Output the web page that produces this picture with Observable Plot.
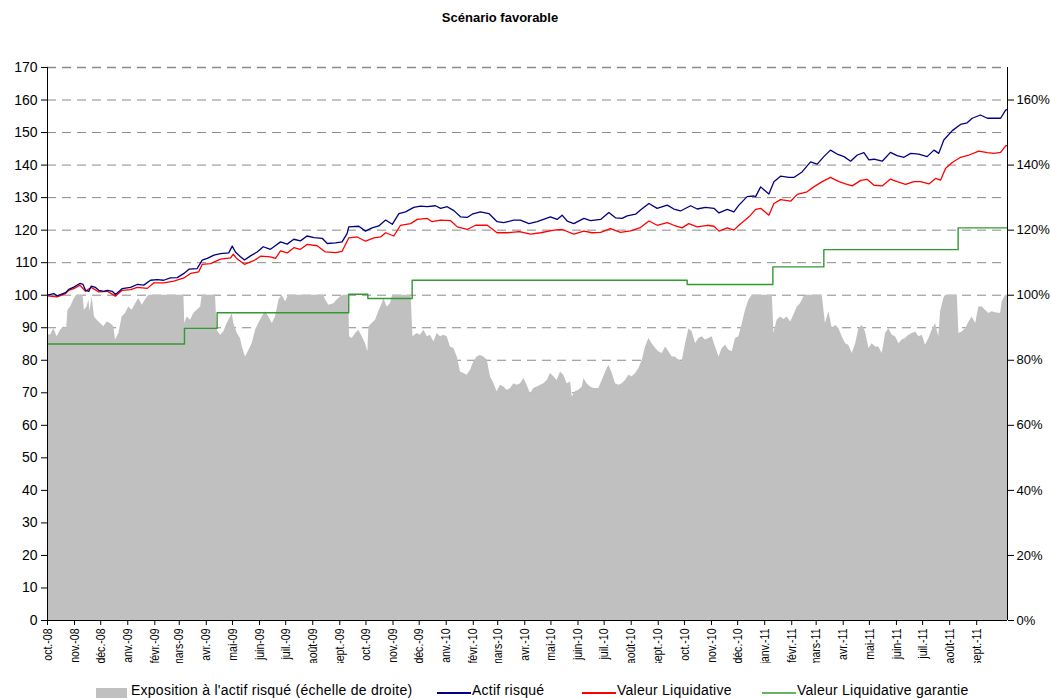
<!DOCTYPE html>
<html>
<head>
<meta charset="utf-8">
<script src="https://cdn.jsdelivr.net/npm/d3@7"></script>
<script src="https://cdn.jsdelivr.net/npm/@observablehq/plot@0.6"></script>
<style>
  html, body { margin: 0; padding: 0; background: #fff; }
  body { width: 1051px; height: 698px; position: relative; overflow: hidden; font-family: "Liberation Sans", Arial, sans-serif; }
  #title { position: absolute; top: 10px; left: 0; width: 1000px; text-align: center; font-weight: bold; font-size: 13px; color: #000; }
  #chart { position: absolute; top: 0; left: 0; }
  .leg { position: absolute; top: 682px; font-size: 14px; letter-spacing: 0.25px; color: #000; white-space: nowrap; }
  .sw { position: absolute; }
</style>
</head>
<body>
<div id="chart"></div>
<div id="title">Scénario favorable</div>
<div id="legend"></div>
<script>
// ---- Data (time in months since 1 Oct 2008) ----
const monthLabels = ["oct.-08","nov.-08","déc.-08","janv.-09","févr.-09","mars-09","avr.-09","mai-09","juin-09","juil.-09","août-09","sept.-09",
  "oct.-09","nov.-09","déc.-09","janv.-10","févr.-10","mars-10","avr.-10","mai-10","juin-10","juil.-10","août-10","sept.-10",
  "oct.-10","nov.-10","déc.-10","janv.-11","févr.-11","mars-11","avr.-11","mai-11","juin-11","juil.-11","août-11","sept.-11"];

const leftTicks = [0,10,20,30,40,50,60,70,80,90,100,110,120,130,140,150,160,170];
const rightTicks = [0,20,40,60,80,100,120,140,160];

// Exposition à l'actif risqué (%)
const exposure = [[0,88],[0.11,87.7],[0.24,89.7],[0.36,87.2],[0.49,89.2],[0.62,90.3],[0.72,89.7],[0.77,95.4],[0.87,96.4],[0.99,98.5],[1.09,100],[1.34,100],[1.39,95.4],[1.49,96.4],[1.56,98.5],[1.60,94.9],[1.68,99.5],[1.77,93.3],[1.87,92.3],[2.00,91.3],[2.12,90.3],[2.25,91.8],[2.37,91.3],[2.50,90.3],[2.56,86.2],[2.69,88.2],[2.81,93.3],[2.94,94.4],[3.06,96.4],[3.19,95.4],[3.32,97.4],[3.44,99],[3.57,96.9],[3.69,98.5],[3.82,100],
[5.14,100],[5.17,91.3],[5.26,93.3],[5.39,92.3],[5.51,94.4],[5.64,95.4],[5.77,96.4],[5.83,100],[6.33,100],[6.39,89.2],[6.52,87.7],[6.64,88.7],[6.77,91.3],[6.90,93.3],[6.96,94.4],[7.02,91.3],[7.15,88.2],[7.27,86.7],[7.34,84.1],[7.46,81],[7.59,83.1],[7.71,85.1],[7.84,89.2],[7.96,91.3],[8.09,93.3],[8.21,94.9],[8.34,93.3],[8.47,91.3],[8.59,93.3],[8.72,98.5],[8.84,100],[8.97,98],[9.09,100],
[10.41,100],[10.48,98.5],[10.60,96.9],[10.79,97.4],[10.91,98.5],[11.04,99.5],[11.17,100],[11.35,100],[11.38,87.2],[11.48,86.7],[11.61,88.2],[11.73,89.2],[11.86,87.2],[11.98,85.1],[12.07,82.6],[12.11,90.3],[12.23,91.3],[12.36,92.3],[12.48,94.9],[12.61,97.4],[12.67,99],[12.80,96.4],[12.92,97.4],[12.99,99.5],[13.05,100],
[13.70,100],[13.77,87.2],[13.93,88.2],[14.05,87.7],[14.18,89.2],[14.31,87.2],[14.43,87.7],[14.56,85.6],[14.68,88.2],[14.81,87.2],[14.93,87.7],[15.06,87.2],[15.18,84.1],[15.31,83.6],[15.44,81],[15.56,76.4],[15.69,75.9],[15.81,75.4],[15.94,76.9],[16.06,79.5],[16.19,81],[16.31,81.5],[16.44,81],[16.57,80],[16.69,74.9],[16.82,72.8],[16.94,70.3],[17.07,72.3],[17.19,71.8],[17.32,70.8],[17.45,71.3],[17.57,72.8],[17.70,72.3],
[17.82,72.8],[17.95,74.4],[18.07,72.3],[18.20,69.7],[18.32,71.3],[18.45,71.8],[18.58,72.3],[18.70,72.8],[18.83,73.8],[18.95,75.9],[19.08,74.9],[19.20,73.8],[19.33,76.4],[19.45,75.4],[19.58,72.8],[19.71,73.3],[19.77,68.7],[19.89,70.3],[20.02,70.8],[20.15,71.8],[20.21,74.4],[20.33,72.8],[20.46,71.8],[20.59,71.3],[20.77,71.3],[20.90,73.8],[21.03,76.4],[21.15,78.5],[21.28,75.9],[21.40,72.8],[21.53,72.3],[21.65,72.8],[21.78,73.8],[21.90,75.4],[22.03,74.9],[22.16,75.9],[22.28,77.4],[22.41,80],[22.53,84.1],[22.66,86.7],[22.78,85.1],[22.91,83.6],[23.03,82.6],[23.16,82.1],[23.29,84.1],[23.41,82.6],[23.54,81],[23.66,81],[23.79,80],[23.91,79.5],
[24.04,85.1],[24.17,89.7],[24.29,88.7],[24.42,85.1],[24.54,86.7],[24.67,87.2],[24.79,86.2],[24.92,86.7],[25.04,87.2],[25.17,84.1],[25.30,81],[25.42,83.6],[25.55,84.6],[25.67,83.1],[25.80,82.6],[25.92,86.7],[26.05,87.2],[26.18,91.3],[26.30,95.4],[26.43,98.5],[26.55,100],
[27.31,100],[27.37,88.2],[27.49,92.3],[27.62,93.3],[27.75,92.5],[27.87,93.3],[28.00,91.8],[28.12,93.8],[28.25,96.4],[28.37,97.4],[28.50,99.5],[28.62,100],[29.19,100],[29.31,91.3],[29.44,94.9],[29.57,89.7],[29.69,90.8],[29.82,89.7],[29.94,87.2],[30.07,85.1],[30.19,84.6],[30.32,82.1],[30.45,85.1],[30.57,89.7],[30.70,90.8],[30.82,88.7],[30.95,83.6],[31.07,85.1],[31.20,84.1],[31.32,84.1],[31.45,82.1],[31.58,88.2],[31.70,89.7],[31.83,87.7],[31.95,87.2],[32.08,85.1],[32.20,86.2],[32.33,86.7],[32.45,87.7],[32.58,88.2],[32.71,88.7],[32.83,87.2],[32.96,87.7],[33.08,84.6],[33.21,86.7],[33.33,89.2],[33.46,91.3],[33.58,87.2],[33.65,94.9],[33.77,99],[33.84,100],
[34.28,100],[34.34,88.2],[34.46,88.7],[34.59,89.7],[34.72,91.8],[34.84,93.3],[34.97,91.3],[35.09,96.4],[35.22,96.4],[35.34,95.4],[35.47,94.4],[35.59,94.9],[35.72,94.6],[35.91,94.4],[35.97,97.9],[36.10,100],[36.17,100]];

// Actif risqué
const actif = [[0,100],[0.24,100.5],[0.36,99.8],[0.68,100.8],[0.80,101.8],[0.99,102.5],[1.22,103.6],[1.34,103.3],[1.43,101.5],[1.56,101.2],[1.65,102.8],[1.81,102.4],[1.93,101.5],[2.12,101.2],[2.25,101.5],[2.44,101.2],[2.56,100.2],[2.81,102],[3.13,102.4],[3.38,103.3],[3.63,103.1],[3.88,104.6],[4.13,104.8],[4.38,104.6],[4.63,105.3],[4.89,105.4],[5.14,106.7],[5.33,108],[5.64,108.2],[5.83,110.8],[6.02,111.3],[6.27,112.3],[6.52,112.8],[6.83,113],[6.96,115.1],[7.08,113.3],[7.27,111.8],[7.42,110.8],[7.65,112.1],[7.90,113.3],[8.13,114.9],[8.40,114.1],[8.53,114.9],[8.78,116.4],
[9.03,115.7],[9.28,117.2],[9.53,116.7],[9.78,118.2],[10.04,117.7],[10.35,117.5],[10.54,115.9],[10.85,116.1],[11.10,116.4],[11.29,119],[11.35,121],[11.73,121.2],[11.98,119.7],[12.23,120.7],[12.48,121.3],[12.74,123.1],[12.99,121.8],[13.24,125.1],[13.49,125.6],[13.80,127],[14.05,127.4],[14.31,127.2],[14.62,127.5],[14.81,126.7],[15.06,127.2],[15.31,126],[15.56,124.1],[15.81,123.9],[16.00,124.9],[16.31,125.6],[16.63,125.1],[16.94,122.6],[17.19,122.3],[17.57,123.1],
[17.82,123.1],[18.14,122],[18.45,122.6],[18.95,124.1],[19.20,123.3],[19.39,124.6],[19.58,122.8],[19.83,122],[20.21,123.6],[20.46,122.9],[20.84,123.3],[21.15,125.4],[21.40,123.8],[21.65,123.6],[21.84,124.4],[22.16,124.9],[22.34,126.2],[22.66,128.2],[22.97,126.7],[23.35,127.7],[23.60,126.5],[23.85,125.9],[24.23,127.5],[24.48,126.5],[24.79,127],[25.11,126.7],[25.30,125.3],[25.61,126.4],[25.86,125.6],[26.05,127.7],[26.36,130.3],[26.61,130.5],[26.68,130.3],[26.87,133.3],
[27.18,131.1],[27.37,134.9],[27.62,136.6],[27.93,136.2],[28.12,136.2],[28.43,137.9],[28.75,141],[29.00,140.3],[29.25,142.6],[29.50,144.6],[29.75,143.4],[30.01,142.6],[30.26,141.2],[30.51,143.1],[30.76,143.8],[30.95,141.6],[31.14,141.8],[31.45,141.2],[31.76,143.9],[32.01,142.9],[32.27,142.4],[32.52,143.6],[32.83,143.4],[33.14,142.6],[33.40,144.6],[33.58,143.6],[33.77,147.7],[34.09,150.6],[34.40,152.5],[34.65,153],[34.84,154.4],[35.15,155.4],[35.41,154.4],[35.66,154.4],[35.91,154.4],[36.10,156.9],[36.17,157.1]];

// Valeur Liquidative
const vl = [[0,99.8],[0.36,99.5],[0.68,100.5],[0.80,101.5],[0.99,102],[1.22,103.1],[1.43,101.2],[1.65,102.4],[1.93,101],[2.25,101.2],[2.56,99.7],[2.81,101.5],[3.13,101.7],[3.38,102.4],[3.76,102.1],[4.01,103.8],[4.38,103.8],[4.76,104.3],[5.14,105.3],[5.39,106.7],[5.70,107.2],[5.83,109.5],[6.14,109.7],[6.52,111.1],[6.90,111.5],[7.00,112.6],[7.15,111.1],[7.42,109.5],[7.77,110.6],[8.03,112],[8.40,111.8],[8.59,111.3],[8.78,113.6],
[9.03,113],[9.28,114.6],[9.53,114.1],[9.78,115.6],[10.16,115.2],[10.47,113.3],[10.85,113.1],[11.10,113.5],[11.35,117.6],[11.67,117.9],[11.98,116.6],[12.30,117.6],[12.55,117.9],[12.74,119.2],[13.05,118.2],[13.30,121.5],[13.68,122],[13.93,123.3],[14.31,123.6],[14.49,122.6],[14.81,123.1],[15.19,122.9],[15.44,121],[15.81,120.2],[16.13,121.5],[16.57,121.5],[16.94,119.2],[17.32,119.2],[17.70,119.5],
[17.82,119.5],[18.20,118.8],[18.58,119.2],[19.08,120],[19.39,120.2],[19.83,118.8],[20.21,119.7],[20.52,119.2],[20.84,119.3],[21.21,120.5],[21.59,119.3],[21.97,119.8],[22.34,120.8],[22.66,122.8],[22.97,121.5],[23.35,122.3],[23.60,121.5],[23.91,120.7],[24.16,122],[24.48,121],[24.86,121.5],[25.11,121.2],[25.30,119.7],[25.61,120.7],[25.86,120],[26.05,121.5],[26.43,124.1],[26.68,126.4],[26.87,126.7],
[27.18,124.6],[27.37,128.2],[27.62,129.4],[28.00,128.9],[28.25,131],[28.62,131.8],[28.87,133.3],[29.19,134.9],[29.50,136.2],[29.82,134.9],[30.07,134.2],[30.32,133.6],[30.64,135.3],[30.89,135.6],[31.14,133.8],[31.45,133.6],[31.76,135.7],[32.01,134.9],[32.33,134.1],[32.64,134.9],[32.89,134.9],[33.21,134.2],[33.46,135.9],[33.65,135.4],[33.84,139],[34.09,140.8],[34.40,142.4],[34.72,143.1],[35.09,144.3],[35.41,143.8],[35.66,143.6],[35.91,143.9],[36.10,145.9],[36.17,146.1]];

// Valeur Liquidative garantie (step)
const vlGarantie = [[0,85],[5.16,89.8],[6.39,94.6],[11.35,100.3],[12.07,99.0],[13.74,104.6],[24.10,103.3],[27.33,108.7],[29.25,114.0],[34.31,120.7],[36.17,120.7]];

// ---- helpers ----
const START = Date.UTC(2008, 9, 1);
const DAYS_PER_MONTH = 30.42;
const toDate = t => new Date(START + t * DAYS_PER_MONTH * 864e5);
const rows = arr => arr.map(([t, v]) => ({date: toDate(t), v}));
const monthTicks = monthLabels.map((_, i) => new Date(Date.UTC(2008, 9 + i, 1)));
const labelOf = d => monthLabels[(d.getUTCFullYear() - 2008) * 12 + d.getUTCMonth() - 9];

const chart = Plot.plot({
  width: 1051,
  height: 680,
  marginTop: 67,
  marginBottom: 60,
  marginLeft: 47,
  marginRight: 44,
  x: {type: "utc", domain: [toDate(0), toDate(36.17)]},
  y: {domain: [0, 170]},
  style: {fontFamily: "'Liberation Sans', Arial, sans-serif", fontSize: "14px", background: "white", color: "black"},
  marks: [
    Plot.ruleY(leftTicks.filter(d => d > 0 && d < 170), {y: d => d, stroke: "#8a8a8a", strokeDasharray: "9,6", strokeWidth: 1}),
    Plot.ruleY([170], {stroke: "#8a8a8a", strokeDasharray: "9,6", strokeWidth: 1.6}),
    Plot.areaY(rows(exposure), {x: "date", y: "v", fill: "#c0c0c0"}),
    Plot.line(rows(vlGarantie), {x: "date", y: "v", stroke: "#339933", strokeWidth: 1.4, curve: "step-after"}),
    Plot.line(rows(vl), {x: "date", y: "v", stroke: "#ff0000", strokeWidth: 1.3}),
    Plot.line(rows(actif), {x: "date", y: "v", stroke: "#000080", strokeWidth: 1.3}),
    Plot.ruleX([toDate(0)], {stroke: "black", strokeWidth: 1}),
    Plot.ruleX([toDate(36.17)], {stroke: "black", strokeWidth: 1}),
    Plot.ruleY([0], {stroke: "black", strokeWidth: 1}),
    Plot.axisY(leftTicks, {anchor: "left", tickSize: 6, tickPadding: 4, label: null, fontSize: 14}),
    Plot.axisY(rightTicks, {anchor: "right", tickSize: 6, tickPadding: 3, label: null, fontSize: 13, tickFormat: d => d + "%"}),
    Plot.axisX(monthTicks, {anchor: "bottom", tickSize: 5, tickPadding: 3, tickRotate: -90, label: null, fontSize: 13, tickFormat: labelOf})
  ]
});
document.getElementById("chart").appendChild(chart);

// condensed, clipped month labels (as in the original spreadsheet rendering)
const svg = d3.select(chart);
svg.append("defs").append("clipPath").attr("id", "xlabclip")
  .attr("clipPathUnits", "userSpaceOnUse")
  .append("rect").attr("x", 0).attr("y", 620).attr("width", 1051).attr("height", 43);
const wrap = svg.append("g").attr("clip-path", "url(#xlabclip)");
svg.selectAll("g[aria-label='x-axis tick label']").each(function() {
  wrap.node().appendChild(this);
  d3.select(this).selectAll("text").each(function() {
    const tr = this.getAttribute("transform") || "";
    this.setAttribute("transform", tr + " scale(0.81,1)");
  });
});

// ---- legend ----
const legendItems = [
  {label: "Exposition à l'actif risqué (échelle de droite)", kind: "box", color: "#c0c0c0", left: 96},
  {label: "Actif risqué", kind: "line", color: "#000080", left: 437},
  {label: "Valeur Liquidative", kind: "line", color: "#ff0000", left: 582},
  {label: "Valeur Liquidative garantie", kind: "line", color: "#66b266", left: 762}
];
const leg = document.getElementById("legend");
for (const it of legendItems) {
  const sw = document.createElement("div");
  sw.className = "sw";
  if (it.kind === "box") {
    Object.assign(sw.style, {left: it.left + "px", top: "688px", width: "31px", height: "10px", background: it.color});
  } else {
    Object.assign(sw.style, {left: it.left + "px", top: "692px", width: "34px", height: "1.5px", background: it.color});
  }
  leg.appendChild(sw);
  const tx = document.createElement("div");
  tx.className = "leg";
  tx.style.left = (it.left + 35) + "px";
  tx.textContent = it.label;
  leg.appendChild(tx);
}
</script>
</body>
</html>
